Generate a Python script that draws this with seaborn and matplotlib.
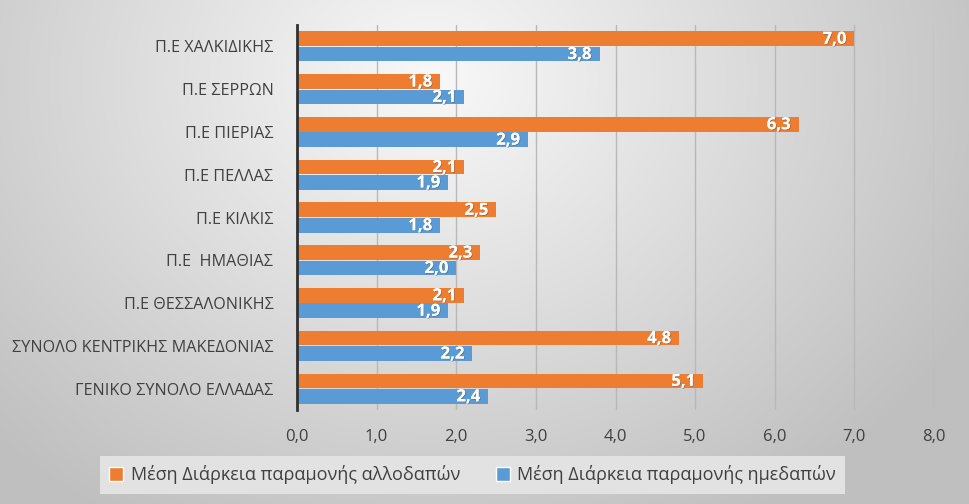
import numpy as np
import pandas as pd
import matplotlib
matplotlib.use("Agg")
import matplotlib.pyplot as plt
import matplotlib.patheffects as pe
from matplotlib.patches import Patch
import seaborn as sns

categories = ["Π.Ε ΧΑΛΚΙΔΙΚΗΣ", "Π.Ε ΣΕΡΡΩΝ", "Π.Ε ΠΙΕΡΙΑΣ", "Π.Ε ΠΕΛΛΑΣ", "Π.Ε ΚΙΛΚΙΣ",
              "Π.Ε  ΗΜΑΘΙΑΣ", "Π.Ε ΘΕΣΣΑΛΟΝΙΚΗΣ", "ΣΥΝΟΛΟ ΚΕΝΤΡΙΚΗΣ ΜΑΚΕΔΟΝΙΑΣ",
              "ΓΕΝΙΚΟ ΣΥΝΟΛΟ ΕΛΛΑΔΑΣ"]
foreign = [7.0, 1.8, 6.3, 2.1, 2.5, 2.3, 2.1, 4.8, 5.1]
domestic = [3.8, 2.1, 2.9, 1.9, 1.8, 2.0, 1.9, 2.2, 2.4]
series_names = ["Μέση Διάρκεια παραμονής αλλοδαπών", "Μέση Διάρκεια παραμονής ημεδαπών"]
x_ticks = [0, 1, 2, 3, 4, 5, 6, 7, 8]

df = pd.DataFrame({
    "cat": categories * 2,
    "val": foreign + domestic,
    "series": [series_names[0]] * len(categories) + [series_names[1]] * len(categories),
})

sns.set_theme(style="white")
plt.rcParams["font.family"] = ["Open Sans", "DejaVu Sans"]

fig = plt.figure(figsize=(9.7, 5.04), dpi=100)

# gradient background
bg = fig.add_axes([0, 0, 1, 1], zorder=-10)
yy, xx = np.mgrid[0:504, 0:970]
d = np.sqrt(((xx - 430) / 600.0) ** 2 + ((yy - 80) / 500.0) ** 2)
g = np.clip(0.975 - 0.22 * d, 0.75, 0.975)
bg.imshow(np.dstack([g, g, g]), aspect="auto", extent=[0, 1, 0, 1])
bg.axis("off")

ax = fig.add_axes([297 / 970, 1 - 410 / 504, 637 / 970, 385 / 504])
ax.set_facecolor("none")
sns.barplot(data=df, y="cat", x="val", hue="series", orient="h", ax=ax,
            palette=["#ED7D31", "#5B9BD5"], width=0.72, gap=0.05,
            saturation=1, legend=False, zorder=3, linewidth=0)

ax.set_xlim(0, 8)
ax.set_xticks(x_ticks)
ax.set_xticklabels([f"{t:.1f}".replace(".", ",") for t in x_ticks],
                   fontsize=12, color="#404040")
ax.tick_params(axis="y", labelsize=11.6, labelcolor="#404040", length=0, pad=17)
ax.tick_params(axis="x", length=0, pad=14)
ax.set_xlabel("")
ax.set_ylabel("")
ax.grid(axis="x", color="#b8b8b8", linewidth=1, zorder=0)
ax.grid(axis="y", visible=False)
for s in ["top", "right", "bottom"]:
    ax.spines[s].set_visible(False)
ax.spines["left"].set_color("#303030")
ax.spines["left"].set_linewidth(2)
ax.spines["left"].set_zorder(5)

for cont in ax.containers:
    for bar in cont:
        w = bar.get_width()
        y = bar.get_y() + bar.get_height() / 2
        ax.text(w - 0.1, y, f"{w:.1f}".replace(".", ","), ha="right", va="center",
                color="white", fontsize=12, fontweight="bold", zorder=6,
                path_effects=[pe.withSimplePatchShadow(offset=(0.6, -0.6),
                                                       shadow_rgbFace="#555555", alpha=0.5),
                              pe.Normal()])

handles = [Patch(facecolor="#ED7D31"), Patch(facecolor="#5B9BD5")]
leg = fig.legend(handles, series_names, loc="center",
                 bbox_to_anchor=(100 / 970, 1 - 493 / 504, 745 / 970, 36 / 504),
                 ncol=2, frameon=True, fontsize=13, handlelength=0.8,
                 handleheight=0.8, handletextpad=0.4, columnspacing=3.0,
                 borderpad=0.5, mode="expand", fancybox=False, borderaxespad=0)
leg.get_frame().set_facecolor("#e2e2e2")
leg.get_frame().set_edgecolor("none")
leg.get_frame().set_alpha(1)
for t in leg.get_texts():
    t.set_color("#404040")

fig.savefig("out.png", dpi=100)
